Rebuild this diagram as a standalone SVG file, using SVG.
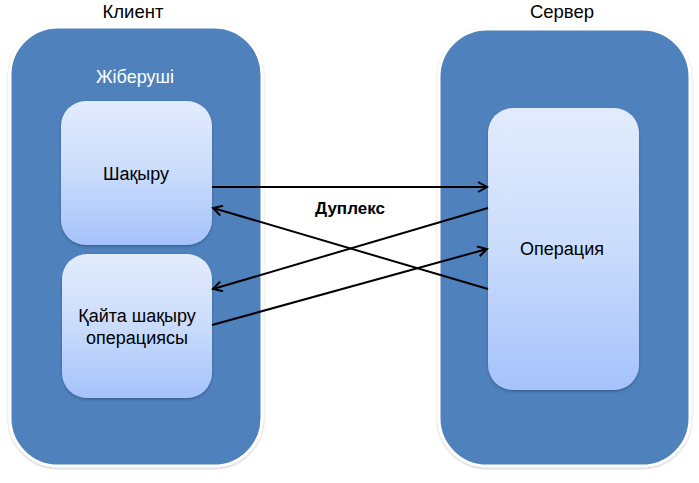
<svg xmlns="http://www.w3.org/2000/svg" width="699" height="483" viewBox="0 0 699 483">
<style>
  .title { font-family: "Liberation Sans", Arial, sans-serif; font-size: 18.5px; fill: #000; text-anchor: middle; }
  .sub { font-family: "Liberation Sans", Arial, sans-serif; font-size: 18px; fill: #fff; text-anchor: middle; }
  .lbl { font-family: "Liberation Sans", Arial, sans-serif; font-size: 18px; fill: #000; text-anchor: middle; }
  .edge-lbl { font-family: "Liberation Sans", Arial, sans-serif; font-size: 17px; font-weight: bold; fill: #000; text-anchor: middle; }
  .container { fill: #4F81BD; stroke: #fff; stroke-width: 3; filter: url(#cshadow); }
  .inner { fill: url(#grad); filter: url(#ishadow); }
  .conn { stroke: #000; stroke-width: 2; fill: none; marker-end: url(#arrow); }
</style>
<defs>
  <linearGradient id="grad" x1="0" y1="0" x2="0" y2="1">
    <stop offset="0" stop-color="#E3ECFD"/>
    <stop offset="0.5" stop-color="#CADCFC"/>
    <stop offset="1" stop-color="#A5C2FB"/>
  </linearGradient>
  <filter id="cshadow" x="-10%" y="-10%" width="120%" height="120%">
    <feDropShadow dx="0" dy="1" stdDeviation="1.2" flood-color="#000" flood-opacity="0.25"/>
  </filter>
  <filter id="ishadow" x="-10%" y="-10%" width="120%" height="120%">
    <feDropShadow dx="0" dy="1.5" stdDeviation="1.2" flood-color="#1F3A60" flood-opacity="0.5"/>
  </filter>
  <marker id="arrow" markerWidth="12" markerHeight="12" refX="10" refY="6" orient="auto" markerUnits="userSpaceOnUse">
    <path d="M1,1 L10,6 L1,11" fill="none" stroke="#000" stroke-width="2"/>
  </marker>
</defs>

<g id="client">
  <rect class="container" x="10" y="27" width="252" height="439" rx="48" ry="48"/>
  <text class="title" x="133" y="18">Клиент</text>
  <text class="sub" x="135" y="83">Жіберуші</text>
</g>

<g id="server">
  <rect class="container" x="439" y="29" width="251" height="437" rx="48" ry="48"/>
  <text class="title" x="562" y="18">Сервер</text>
</g>

<g id="call">
  <rect class="inner" x="61" y="101" width="151" height="144" rx="25" ry="25"/>
  <text class="lbl" x="136" y="180">Шақыру</text>
</g>

<g id="callback">
  <rect class="inner" x="62" y="254" width="150" height="144" rx="25" ry="25"/>
  <text class="lbl" x="137" y="322">Қайта шақыру</text>
  <text class="lbl" x="137" y="344">операциясы</text>
</g>

<g id="operation">
  <rect class="inner" x="488" y="108" width="151" height="282" rx="25" ry="25"/>
  <text class="lbl" x="562" y="255">Операция</text>
</g>

<g id="connectors">
  <line class="conn" x1="212" y1="187" x2="487" y2="187"/>
  <line class="conn" x1="488" y1="289" x2="213" y2="208"/>
  <line class="conn" x1="488" y1="208" x2="213" y2="289"/>
  <line class="conn" x1="212" y1="325" x2="487" y2="249"/>
  <text class="edge-lbl" x="350" y="214">Дуплекс</text>
</g>
</svg>
